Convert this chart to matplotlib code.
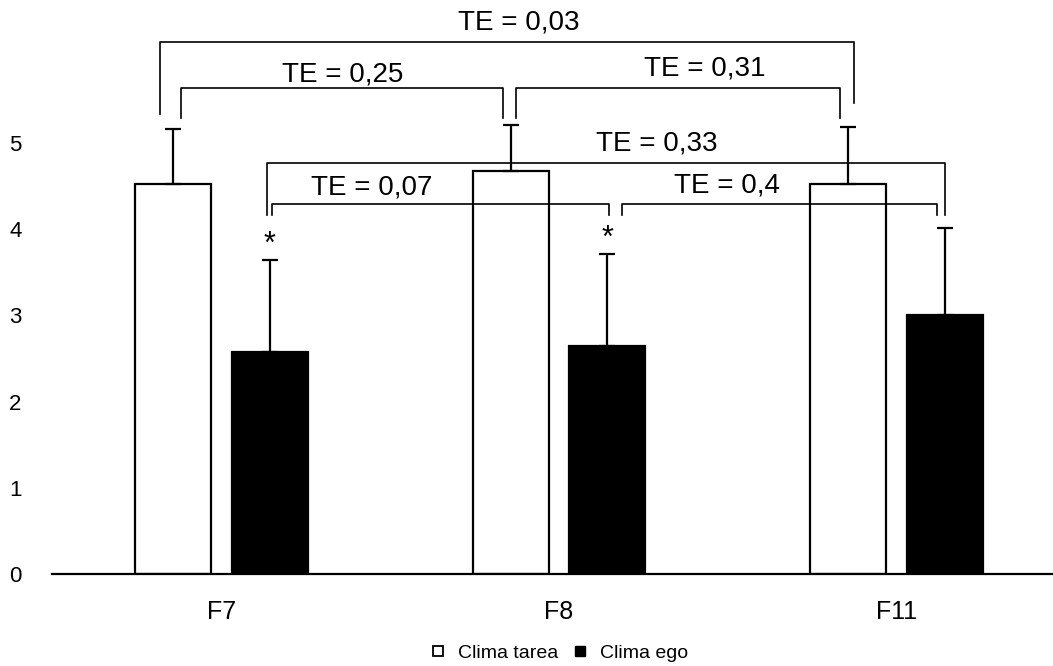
import matplotlib
matplotlib.use("Agg")
import matplotlib.pyplot as plt
from matplotlib.lines import Line2D
import numpy as np

plt.rcParams['font.family'] = ['Liberation Sans', 'DejaVu Sans']

# data
categories = ['F7', 'F8', 'F11']
tarea_mean = [4.52, 4.67, 4.52]
tarea_sd = [0.64, 0.54, 0.66]
ego_mean = [2.58, 2.64, 3.00]
ego_sd = [1.06, 1.07, 1.01]
stars = [True, True, False]   # asterisk above the ego bar

# brackets: (left bar, right bar, label) ; bar = (group, 0 tarea / 1 ego)
brackets = [
    ((0, 0), (2, 0), 'TE = 0,03'),
    ((0, 0), (1, 0), 'TE = 0,25'),
    ((1, 0), (2, 0), 'TE = 0,31'),
    ((0, 1), (2, 1), 'TE = 0,33'),
    ((0, 1), (1, 1), 'TE = 0,07'),
    ((1, 1), (2, 1), 'TE = 0,4'),
]
# drawing geometry for the brackets (data units): top, left leg end, right leg end,
# x nudges of each leg, label x / y
br_geom = [
    (6.17, 5.34, 5.46, -0.039, 0.018, 0.880, 6.40),
    (5.64, 5.29, 5.29, 0.024, -0.024, 0.358, 5.80),
    (5.64, 5.29, 5.29, 0.015, -0.024, 1.433, 5.87),
    (4.77, 4.16, 4.16, -0.007, 0.0, 1.290, 4.99),
    (4.29, 4.16, 4.16, 0.007, 0.004, 0.446, 4.48),
    (4.29, 4.16, 4.16, 0.043, -0.022, 1.498, 4.51),
]

x = np.arange(len(categories))
width = 0.226
off = 0.143

fig = plt.figure(figsize=(10.53, 6.66), dpi=100)
ax = fig.add_axes([52 / 1053, 1 - 574 / 666, 1 - 52 / 1053, 574 / 666])

ax.bar(x - off, tarea_mean, width, color='white', edgecolor='black', linewidth=1.6, zorder=2)
ax.bar(x + off, ego_mean, width, color='black', edgecolor='black', linewidth=1.6, zorder=2)
ax.errorbar(x - off, tarea_mean, yerr=[np.zeros(3), tarea_sd], fmt='none',
            ecolor='black', elinewidth=1.6, capsize=6, capthick=1.6, zorder=3)
ax.errorbar(x + off, ego_mean, yerr=[np.zeros(3), ego_sd], fmt='none',
            ecolor='black', elinewidth=1.6, capsize=6, capthick=1.6, zorder=3)

for i, s in enumerate(stars):
    if s:
        ax.text(x[i] + off, ego_mean[i] + ego_sd[i] + 0.18, '*', ha='center', va='center',
                fontsize=22)


def bar_x(b):
    g, s = b
    return x[g] + (off if s else -off)


for (b1, b2, lab), (top, l1, l2, d1, d2, tx, ty) in zip(brackets, br_geom):
    xa = bar_x(b1) + d1
    xb = bar_x(b2) + d2
    ax.plot([xa, xa, xb, xb], [l1, top, top, l2], color='black', lw=1.2, zorder=4)
    ax.text(tx, ty, lab, ha='center', va='center', fontsize=20)

ax.set_xlim(-0.502, 2.464)
ax.set_ylim(0, 574 / 86.2)
ax.set_xticks(x)
ax.set_xticklabels(categories, fontsize=18)
ax.set_yticks(range(6))
ax.set_yticklabels([str(v) for v in range(6)], fontsize=16)
ax.tick_params(axis='both', length=0)
ax.tick_params(axis='y', pad=22)
ax.tick_params(axis='x', pad=19)
for sp in ['top', 'right', 'left']:
    ax.spines[sp].set_visible(False)
ax.spines['bottom'].set_linewidth(1.6)

handles = [
    Line2D([], [], marker='s', ls='none', markersize=7.5, markerfacecolor='white',
           markeredgecolor='black', markeredgewidth=1.3, label='Clima tarea'),
    Line2D([], [], marker='s', ls='none', markersize=7.5, markerfacecolor='black',
           markeredgecolor='black', label='Clima ego'),
]
fig.legend(handles=handles, loc='center', bbox_to_anchor=(0.530, 0.019), ncol=2,
           frameon=False, fontsize=14, handletextpad=0.5, columnspacing=0.65,
           handlelength=1.0, borderpad=0.1)

fig.savefig('out.png', dpi=100)
